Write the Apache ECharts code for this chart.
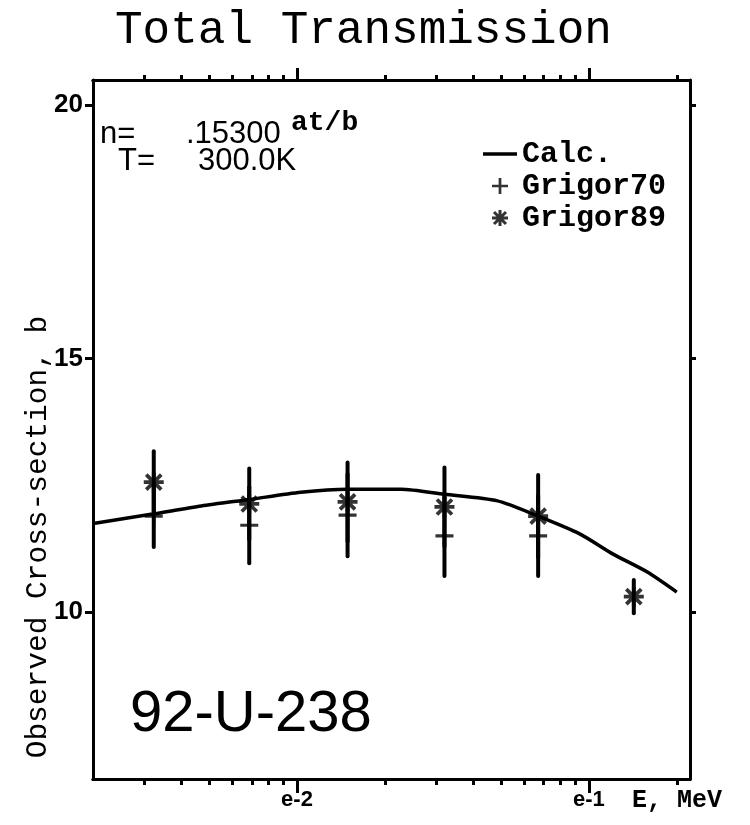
<!DOCTYPE html>
<html>
<head>
<meta charset="utf-8">
<script src="https://cdn.jsdelivr.net/npm/echarts@6/dist/echarts.min.js"></script>
<style>
  html, body { margin: 0; padding: 0; background: #fff; }
  #chart { width: 750px; height: 825px; }
</style>
</head>
<body>
<div id="chart"></div>
<script>
// Calculated total cross-section (b) vs neutron energy (MeV)
const calcEnergy = [0.00203, 0.0032, 0.0047, 0.0069, 0.0103, 0.0149, 0.0227, 0.032, 0.0486, 0.067, 0.093, 0.121, 0.158, 0.2];
const calcSigma  = [11.75, 11.93, 12.09, 12.22, 12.36, 12.42, 12.42, 12.32, 12.19, 11.89, 11.54, 11.14, 10.79, 10.39];

// Grigor70 measurements with uncertainties
const g70Energy = [0.00323, 0.00686, 0.0149, 0.032, 0.067];
const g70Sigma  = [11.89, 11.71, 11.91, 11.50, 11.50];
const g70Err    = [0.61, 0.75, 0.81, 0.79, 0.79];

// Grigor89 measurements with uncertainties
const g89Energy = [0.00323, 0.00686, 0.0149, 0.032, 0.067, 0.1425];
const g89Sigma  = [12.56, 12.13, 12.17, 12.07, 11.89, 10.30];
const g89Err    = [0.61, 0.70, 0.78, 0.78, 0.81, 0.33];

// Axis ticks and labels
const yTicks = [10, 15, 20];
const xMajorTicks = [0.01, 0.1];
const xMajorLabels = ['e-2', 'e-1'];
const xMinorTicks = [0.003, 0.004, 0.005, 0.006, 0.007, 0.008, 0.009,
                     0.02, 0.03, 0.04, 0.05, 0.06, 0.07, 0.08, 0.09, 0.2];

const X_MIN = 0.002, X_MAX = 0.222;
const Y_MIN = 6.7, Y_MAX = 20.5;

const plusPath = 'path://M0 8.3H20V11.7H0Z M8.3 0H11.7V20H8.3Z';
const starPath = 'path://M2 8.5L18 8.5L18 11.5L2 11.5Z M8.5 2L11.5 2L11.5 18L8.5 18Z ' +
                 'M5.06 2.94L17.06 14.94L14.94 17.06L2.94 5.06Z M14.94 2.94L17.06 5.06L5.06 17.06L2.94 14.94Z';
const dashPath = 'path://M0 0H34V3.4H0Z';

const zip = (xs, ys) => xs.map((x, i) => [x, ys[i]]);
const bars = (xs, ys, es) => xs.map((x, i) => [x, ys[i] - es[i], ys[i] + es[i]]);

const monoBold = { fontFamily: 'Liberation Mono', fontWeight: 'bold', color: '#000' };
const axisLine = { show: true, lineStyle: { color: '#000', width: 3 } };

function xAxisDef(position, tickValues, tickLen, showLabels) {
  return {
    type: 'log', logBase: 10, min: X_MIN, max: X_MAX, position: position, offset: 0,
    splitLine: { show: false }, axisLine: axisLine,
    axisTick: { show: true, inside: false, length: tickLen, customValues: tickValues,
                lineStyle: { color: '#000', width: 3 } },
    axisLabel: showLabels ? {
      show: true, customValues: xMajorTicks, margin: 10,
      fontFamily: 'Liberation Sans', fontWeight: 'bold', fontSize: 22, color: '#000',
      formatter: v => {
        let best = 0;
        xMajorTicks.forEach((t, i) => {
          if (Math.abs(Math.log10(t) - Math.log10(v)) < Math.abs(Math.log10(xMajorTicks[best]) - Math.log10(v))) best = i;
        });
        return xMajorLabels[best];
      }
    } : { show: false }
  };
}

function yAxisDef(position, showLabels) {
  return {
    type: 'value', min: Y_MIN, max: Y_MAX, position: position, offset: 0,
    splitLine: { show: false }, axisLine: axisLine,
    axisTick: { show: true, inside: false, length: position === 'left' ? 8 : 6, customValues: yTicks,
                lineStyle: { color: '#000', width: 3 } },
    axisLabel: showLabels ? {
      show: true, customValues: yTicks, margin: 10,
      fontFamily: 'Liberation Sans', fontWeight: 'bold', fontSize: 26, color: '#000'
    } : { show: false }
  };
}

function errorBarItem(params, api) {
  const x = api.value(0);
  const lo = api.coord([x, api.value(1)]);
  const hi = api.coord([x, api.value(2)]);
  return {
    type: 'line',
    shape: { x1: lo[0], y1: lo[1], x2: hi[0], y2: hi[1] },
    style: { stroke: '#000', lineWidth: 4, lineCap: 'round' }
  };
}

function label(text, x, y, size, opts) {
  return {
    type: 'text', x: x, y: y, silent: true,
    style: Object.assign({
      text: text, fill: '#000', fontSize: size, fontFamily: 'Liberation Sans',
      align: 'left', verticalAlign: 'middle'
    }, opts || {})
  };
}

const chart = echarts.init(document.getElementById('chart'), null, { renderer: 'canvas' });
chart.setOption({
  backgroundColor: '#fff',
  color: ['#000', '#000', '#000', '#000', '#000'],
  animation: false,
  title: {
    text: 'Total Transmission', left: 110, top: 3,
    textStyle: { fontFamily: 'Liberation Mono', fontWeight: 'normal', fontSize: 46, color: '#000' }
  },
  grid: { left: 93, right: 60, top: 80, bottom: 46, containLabel: false },
  xAxis: [
    xAxisDef('bottom', xMajorTicks, 14, true),
    xAxisDef('bottom', xMinorTicks, 6, false),
    xAxisDef('top', xMajorTicks, 12, false),
    xAxisDef('top', xMinorTicks, 5, false)
  ],
  yAxis: [yAxisDef('left', true), yAxisDef('right', false)],
  legend: {
    orient: 'vertical', left: 478, top: 134, itemWidth: 34, itemHeight: 16, itemGap: 2,
    symbolKeepAspect: true, selectedMode: false,
    textStyle: Object.assign({ fontSize: 30 }, monoBold),
    data: [
      { name: 'Calc.', icon: dashPath, itemStyle: { color: '#000' } },
      { name: 'Grigor70', icon: plusPath, itemStyle: { color: '#000' } },
      { name: 'Grigor89', icon: starPath, itemStyle: { color: '#000' } }
    ]
  },
  graphic: [
    label('n=', 100, 134, 31),
    label('.15300', 186, 134, 31),
    label('at/b', 291, 123, 28, { fontFamily: 'Liberation Mono', fontWeight: 'bold' }),
    label('T=', 118, 161, 31),
    label('300.0K', 198, 161, 31),
    label('92-U-238', 130, 715, 58),
    label('E, MeV', 632, 801, 25, { fontFamily: 'Liberation Mono', fontWeight: 'bold' }),
    {
      type: 'text', x: 38, y: 537, rotation: Math.PI / 2, silent: true,
      style: { text: 'Observed Cross-section, b', fill: '#000', fontSize: 29.5,
               fontFamily: 'Liberation Mono', align: 'center', verticalAlign: 'middle' }
    }
  ],
  series: [
    {
      name: 'Calc.', type: 'line', xAxisIndex: 0, yAxisIndex: 0,
      data: zip(calcEnergy, calcSigma), showSymbol: false, symbol: 'none', smooth: 0.25,
      itemStyle: { color: '#000' }, lineStyle: { color: '#000', width: 3.5 }, z: 3
    },
    {
      name: 'Grigor70 errors', type: 'custom', xAxisIndex: 0, yAxisIndex: 0,
      data: bars(g70Energy, g70Sigma, g70Err), encode: { x: 0, y: [1, 2] },
      renderItem: errorBarItem, z: 4
    },
    {
      name: 'Grigor89 errors', type: 'custom', xAxisIndex: 0, yAxisIndex: 0,
      data: bars(g89Energy, g89Sigma, g89Err), encode: { x: 0, y: [1, 2] },
      renderItem: errorBarItem, z: 4
    },
    {
      name: 'Grigor70', type: 'scatter', xAxisIndex: 0, yAxisIndex: 0,
      data: zip(g70Energy, g70Sigma), symbol: plusPath, symbolSize: [18, 18],
      itemStyle: { color: '#000' }, z: 5
    },
    {
      name: 'Grigor89', type: 'scatter', xAxisIndex: 0, yAxisIndex: 0,
      data: zip(g89Energy, g89Sigma), symbol: starPath, symbolSize: [20, 20],
      itemStyle: { color: '#000' }, z: 5
    }
  ]
});
</script>
</body>
</html>
